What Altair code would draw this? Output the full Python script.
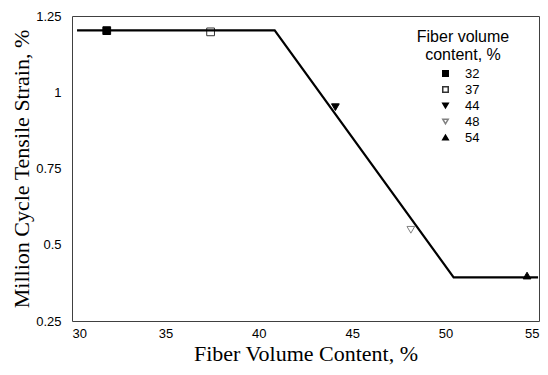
import altair as alt
import pandas as pd

# Measured data points (fiber volume content %, million-cycle tensile strain %)
point_labels = ["32", "37", "44", "48", "54"]
point_x = [31.86, 37.42, 44.10, 48.14, 54.36]
point_y = [1.202, 1.198, 0.951, 0.549, 0.399]

# Bilinear fit line
line_x = [30.27, 40.85, 50.43, 54.95]
line_y = [1.203, 1.203, 0.393, 0.393]

x_ticks = [30, 35, 40, 45, 50, 55]
y_ticks = [0.25, 0.5, 0.75, 1.0, 1.25]

pts = pd.DataFrame({"label": point_labels, "x": point_x, "y": point_y})
fit = pd.DataFrame({"x": line_x, "y": line_y})

xscale = alt.Scale(domain=[30, 55], nice=False, zero=False)
yscale = alt.Scale(domain=[0.25, 1.25], nice=False, zero=False)

x_axis = alt.Axis(values=x_ticks, title="Fiber Volume Content, %", labelPadding=6,
                  titlePadding=3, format="d")
y_axis = alt.Axis(values=y_ticks, title="Million Cycle Tensile Strain, %", labelPadding=11,
                  titlePadding=2, labelExpr="datum.value == 1 ? '1' : format(datum.value, '.2~f')")

legend_title = ["Fiber volume", "content, %"]
leg = alt.Legend(orient="none", legendX=345, legendY=13, titleFont="Liberation Sans",
                 titleFontSize=16, titleFontWeight="normal", titleAlign="center",
                 titleAnchor="middle", titleLineHeight=18, labelFontSize=13,
                 labelFont="Liberation Sans", symbolOffset=-7, labelOffset=13,
                 rowPadding=2, padding=0, symbolSize=30, titlePadding=4)

points = alt.Chart(pts).mark_point(opacity=1, strokeWidth=1, size=60).encode(
    x=alt.X("x:Q", scale=xscale, axis=x_axis),
    y=alt.Y("y:Q", scale=yscale, axis=y_axis),
    shape=alt.Shape("label:N", title=legend_title, legend=leg,
                    scale=alt.Scale(domain=point_labels,
                                    range=["square", "square", "triangle-down", "triangle-down", "triangle-up"])),
    fill=alt.Fill("label:N", title=legend_title, legend=leg,
                  scale=alt.Scale(domain=point_labels,
                                  range=["black", "white", "black", "white", "black"])),
    stroke=alt.Stroke("label:N", title=legend_title, legend=leg,
                      scale=alt.Scale(domain=point_labels,
                                      range=["black", "#333333", "black", "#808080", "black"])),
)

line = alt.Chart(fit).mark_line(color="black", strokeWidth=2.2).encode(
    x=alt.X("x:Q", scale=xscale, axis=x_axis),
    y=alt.Y("y:Q", scale=yscale, axis=y_axis),
)

chart = alt.layer(points, line).properties(
    width=467, height=305,
    autosize=alt.AutoSizeParams(type="none"),
    padding={"left": 64, "top": 8, "right": 1, "bottom": 46},
).configure_view(
    stroke="#404040", strokeWidth=1
).configure_axis(
    domain=False, ticks=False, grid=False,
    labelFont="Liberation Sans", labelFontSize=13, labelColor="black",
    titleFont="Liberation Serif", titleFontSize=22, titleFontWeight="normal", titleColor="black",
)

chart.save("out.html", embed_options={"renderer": "svg", "actions": False})
